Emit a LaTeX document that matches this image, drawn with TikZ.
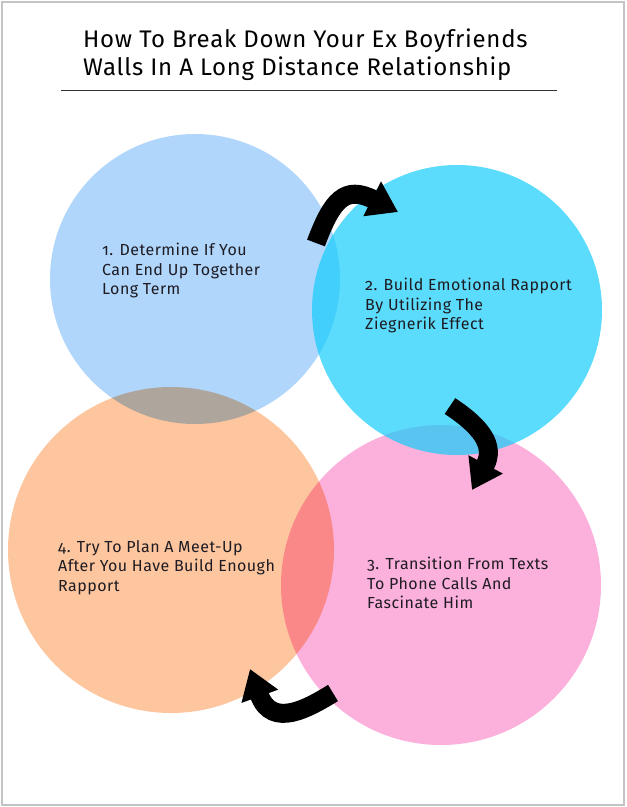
\documentclass[tikz,border=0pt]{standalone}
\usepackage{fontspec}
\setmainfont[Numbers=OldStyle,LetterSpace=3]{Fira Sans}
\usepackage{tikz}
\usetikzlibrary{arrows.meta}
\definecolor{ringBlue}{HTML}{B0D6FC}
\definecolor{ringCyan}{HTML}{16CDFB}
\definecolor{ringPink}{HTML}{FCB0DC}
\definecolor{ringOrange}{HTML}{FDC69E}
\definecolor{inkDark}{HTML}{1E1B22}
\definecolor{frameGray}{HTML}{C4C4C4}
\tikzset{
  disc/.style={circle, inner sep=0pt, draw=none, minimum size=#1},
  steptext/.style={anchor=north west, inner sep=0pt, align=left, text=inkDark,
                   font=\fontsize{16}{19.6}\selectfont},
  turn/.style={line width=19pt, draw=black,
               -{Triangle[length=29pt,width=37pt]}},
  headline/.style={anchor=north west, inner sep=0pt, align=left,
                   font=\fontsize{24}{28}\selectfont}
}

\begin{document}
\begin{tikzpicture}[x=1pt,y=-1pt]
  \useasboundingbox (0,0) rectangle (627,807);
  \draw[frameGray, line width=1.2pt] (2,2) rectangle (624,805);

  % title
  \node[headline] (title) at (83,29) {How To Break Down Your Ex Boyfriends\\
    Walls In A Long Distance Relationship};
  \coordinate (ruleL) at (61,90);
  \coordinate (ruleR) at (557,90);
  \draw[black!80, line width=0.8pt] (ruleL) -- (ruleR);

  % circles
  \node[disc=290pt, fill=ringBlue] (c1) at (195,279) {};
  \begin{scope}[blend mode=multiply]
    \node[disc=326pt, fill=ringOrange] (c4) at (171,550) {};
    \node[disc=320pt, fill=ringPink] (c3) at (441,585) {};
  \end{scope}
  \node[disc=290pt, fill=ringCyan, fill opacity=0.7] (c2) at (457,310) {};

  % step texts
  \node[steptext] (t1) at (102,243) {1. Determine If You\\Can End Up Together\\Long Term};
  \node[steptext] (t2) at (365,278) {2. Build Emotional Rapport\\By Utilizing The\\Ziegnerik Effect};
  \node[steptext] (t3) at (367,557) {3. Transition From Texts\\To Phone Calls And\\Fascinate Him};
  \node[steptext] (t4) at (58,540) {4. Try To Plan A Meet-Up\\After You Have Build Enough\\Rapport};

  % arrows
  \coordinate (a1s) at (316,243);
  \coordinate (a1e) at (398,212);
  \coordinate (a2s) at (450,406);
  \coordinate (a2e) at (472,490);
  \coordinate (a3s) at (333,693);
  \coordinate (a3e) at (250,669);
  \draw[turn] (a1s) .. controls (332,200) and (345,185) .. (a1e);
  \draw[turn] (a2s) .. controls (480,426) and (496,445) .. (a2e);
  \draw[turn] (a3s) .. controls (310,707) and (272,730) .. (a3e);
\end{tikzpicture}
\end{document}
